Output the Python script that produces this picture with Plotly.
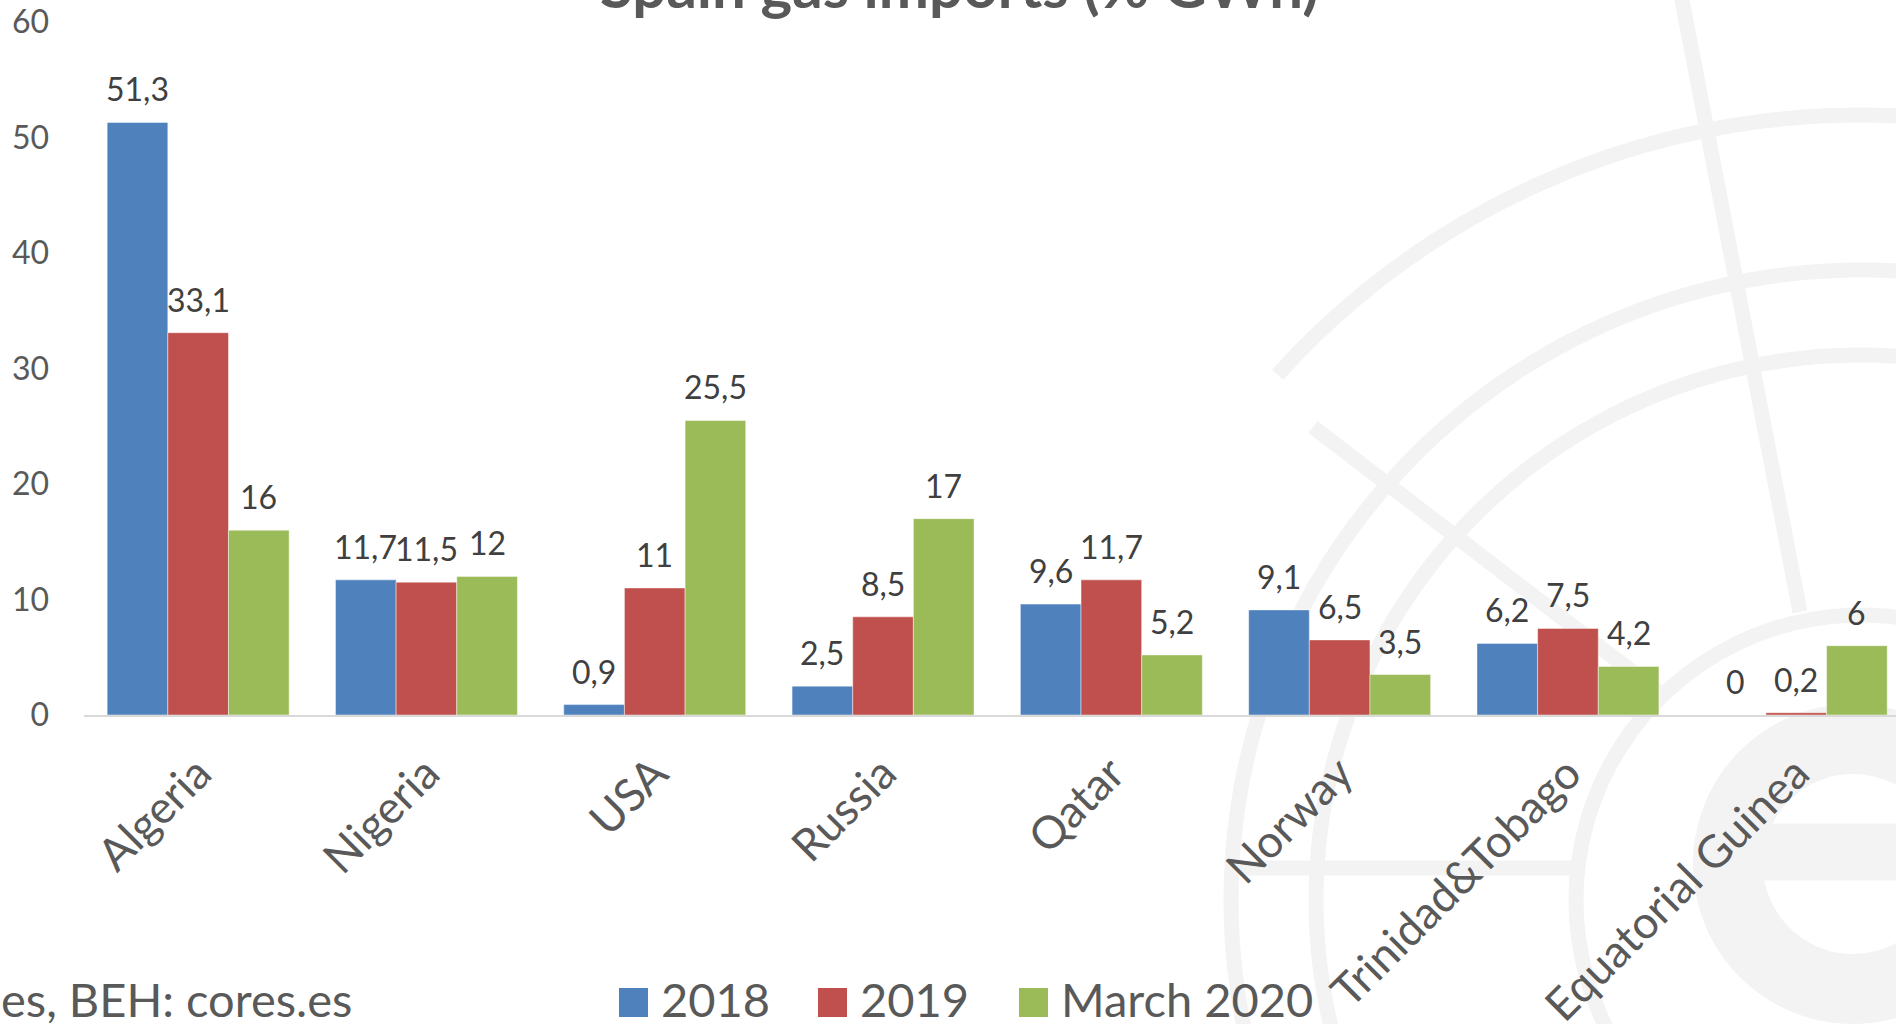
import math
import plotly.graph_objects as go

# --- data ---
countries = ["Algeria", "Nigeria", "USA", "Russia", "Qatar", "Norway",
             "Trinidad&Tobago", "Equatorial Guinea"]
imports_2018 = [51.3, 11.7, 0.9, 2.5, 9.6, 9.1, 6.2, 0]
imports_2019 = [33.1, 11.5, 11, 8.5, 11.7, 6.5, 7.5, 0.2]
imports_mar2020 = [16, 12, 25.5, 17, 5.2, 3.5, 4.2, 6]
series_names = ["2018", "2019", "March 2020"]
y_ticks = [0, 10, 20, 30, 40, 50, 60]
title_text = "Spain gas imports (% GWh)"
source_text = "es, BEH: cores.es"

COLORS = ["#4F81BD", "#C0504D", "#9BBB59"]
FONT = "Lato"
GREY = "#595959"
WM = "#f3f3f3"   # watermark grey

# page / plot area in pixels
W, H = 1896, 1024
ML, MT, MB = 84, 22, 309
PW, PH = W - ML, H - MT - MB
CAT_PX = 228.3          # pixels per category
BARGAP = 0.203


def paper(x, y):
    """pixel position -> paper coordinates"""
    return (x - ML) / PW, (H - MB - y) / PH


def fmt(v):
    return f"{v:g}".replace(".", ",")


series = [imports_2018, imports_2019, imports_mar2020]

fig = go.Figure()
for name, vals, col in zip(series_names, series, COLORS):
    fig.add_trace(go.Bar(
        x=countries, y=vals, name=name,
        marker=dict(color=col, line=dict(width=1, color="rgba(255,255,255,0.45)")),
        showlegend=False, hoverinfo="x+y+name",
    ))

# value labels above bars
annotations = []
bar_w = (1 - BARGAP) / len(series)
for k, vals in enumerate(series):
    off = (k - 1) * bar_w
    for i, v in enumerate(vals):
        annotations.append(dict(
            x=i + off, y=v, xref="x", yref="y", text=fmt(v),
            showarrow=False, yanchor="bottom", yshift=12,
            font=dict(family=FONT, size=32, color="#404040"),
        ))

# title, cut by the top edge as in the reference
tx, ty = paper(959, 23)
annotations.append(dict(
    x=tx, y=ty, xref="paper", yref="paper", text=f"<b>{title_text}</b>",
    showarrow=False, xanchor="center", yanchor="bottom",
    font=dict(family=FONT, size=60, color=GREY),
))

# source line, cut by the left edge
sx, sy = paper(-1, 999)
annotations.append(dict(
    x=sx, y=sy, xref="paper", yref="paper", text=source_text,
    showarrow=False, xanchor="left", yanchor="middle",
    font=dict(family=FONT, size=47, color=GREY),
))

# legend drawn by hand (big squares like the original)
shapes = []
legend_x = [619, 818, 1019]
for name, col, lx in zip(series_names, COLORS, legend_x):
    x0, y0 = paper(lx, 1017)
    x1, y1 = paper(lx + 29, 988)
    shapes.append(dict(type="rect", xref="paper", yref="paper",
                       x0=x0, y0=y0, x1=x1, y1=y1,
                       fillcolor=col, line=dict(width=0)))
    ax, ay = paper(lx + 40, 999)
    annotations.append(dict(
        x=ax, y=ay, xref="paper", yref="paper", text=name,
        showarrow=False, xanchor="left", yanchor="middle",
        font=dict(family=FONT, size=47, color=GREY),
    ))

# faint globe watermark behind the chart
CX, CY = 1861, 900


def arc_path(cx, cy, r, a0, a1, n=90):
    pts = []
    for i in range(n + 1):
        t = math.radians(a0 + (a1 - a0) * i / n)
        pts.append(paper(cx + r * math.cos(t), cy + r * math.sin(t)))
    return "M " + " L ".join(f"{x:.5f},{y:.5f}" for x, y in pts)


wm_arcs = [(CX, CY, 785, 222, 290, 15), (CX, CY, 630, 165, 290, 15),
           (CX, CY, 545, 165, 290, 15), (CX, CY, 285, 0, 360, 15),
           (1853, 864, 125, 360, 45, 70)]          # last one: bowl of the "e"
for cx, cy, r, a0, a1, lw in wm_arcs:
    shapes.append(dict(type="path", xref="paper", yref="paper", layer="below",
                       path=arc_path(cx, cy, r, a0, a1), line=dict(color=WM, width=lw)))

wm_lines = [((1680, -10), (1800, 612), 15),
            ((1313, 427), (1660, 693), 15),
            ((1229, 868), (1577, 868), 15),
            ((1728, 852), (1980, 852), 57)]        # bar of the "e"
for (xa, ya), (xb, yb), lw in wm_lines:
    p0, p1 = paper(xa, ya), paper(xb, yb)
    shapes.append(dict(type="line", xref="paper", yref="paper", layer="below",
                       x0=p0[0], y0=p0[1], x1=p1[0], y1=p1[1],
                       line=dict(color=WM, width=lw)))

fig.update_layout(
    width=W, height=H,
    margin=dict(l=ML, r=0, t=MT, b=MB, autoexpand=False),
    barmode="group", bargap=BARGAP, bargroupgap=0,
    paper_bgcolor="white", plot_bgcolor="rgba(0,0,0,0)",
    font=dict(family=FONT, color=GREY),
    separators=",.",
    showlegend=False,
    xaxis=dict(
        range=[-0.5, -0.5 + PW / CAT_PX], tickangle=-45,
        tickfont=dict(family=FONT, size=45, color=GREY),
        showline=True, linecolor="#D9D9D9", linewidth=2,
        showgrid=False, zeroline=False, ticks="", automargin=False,
        ticklabelstandoff=12,
    ),
    yaxis=dict(
        range=[0, 60], tickvals=y_ticks,
        tickfont=dict(family=FONT, size=32, color=GREY),
        showgrid=False, zeroline=False, showline=False, ticks="",
        ticklabelstandoff=34, automargin=False,
    ),
    annotations=annotations,
    shapes=shapes,
)

# the page's default 8px body margin would shift the figure
fig.write_html("out.html", config={"displayModeBar": False},
               post_script="document.body.style.margin='0';")
